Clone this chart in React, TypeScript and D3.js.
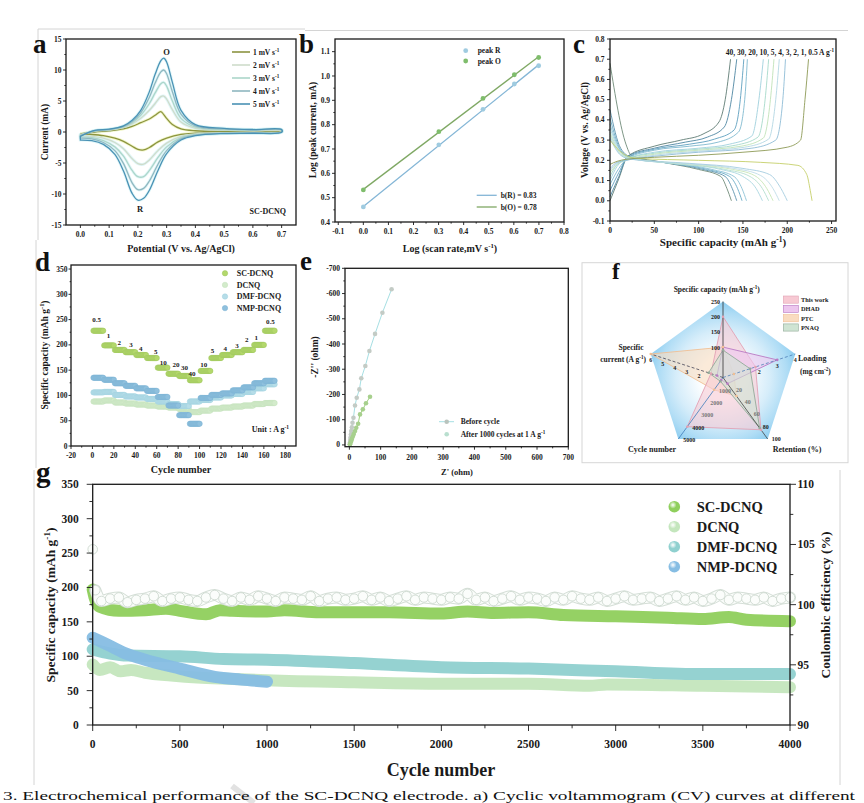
import * as d3 from 'd3'

const FONT = '"Liberation Serif", "Times New Roman", Times, serif'
const INK = '#1a1a1a'

// ---------- a) cyclic voltammograms ----------
const cvRates = ['1', '2', '3', '4', '5']
const cvColors = ['#8c9440', '#cfdccb', '#acd6ca', '#8fb7c0', '#4a92b5']
const cvAnodicE = [0, 0.05, 0.1, 0.15, 0.18, 0.21, 0.24, 0.26, 0.28, 0.29, 0.3, 0.32, 0.35, 0.4, 0.5, 0.6, 0.7]
const cvAnodicI = [
  [-0.3, 0.0, 0.2, 0.5, 0.9, 1.5, 2.1, 2.7, 3.3, 2.8, 2.2, 1.2, 0.5, 0.2, 0.1, 0.1, 0.1],
  [-0.4, 0.1, 0.3, 0.7, 1.3, 2.2, 3.5, 4.6, 5.7, 5.8, 5.3, 3.6, 1.6, 0.6, 0.3, 0.2, 0.2],
  [-0.5, 0.15, 0.35, 0.8, 1.5, 2.7, 4.6, 6.3, 7.8, 8.0, 7.4, 5.0, 2.2, 0.8, 0.4, 0.3, 0.3],
  [-0.6, 0.2, 0.4, 0.9, 1.7, 3.1, 5.6, 7.9, 9.7, 10.0, 9.4, 6.5, 2.9, 1.0, 0.5, 0.35, 0.35],
  [-0.7, 0.25, 0.45, 1.0, 1.9, 3.5, 6.5, 9.3, 11.5, 11.9, 11.3, 8.0, 3.5, 1.2, 0.6, 0.4, 0.4],
]
const cvCathodicE = [0.7, 0.6, 0.5, 0.4, 0.35, 0.3, 0.27, 0.24, 0.22, 0.2, 0.18, 0.15, 0.12, 0.08, 0.04, 0.0]
const cvCathodicI = [
  [0.1, 0.0, -0.05, -0.2, -0.4, -1.0, -1.6, -2.5, -2.9, -2.8, -2.3, -1.5, -1.0, -0.6, -0.4, -0.3],
  [0.05, -0.05, -0.1, -0.3, -0.7, -1.8, -3.0, -4.5, -5.2, -5.1, -4.3, -2.7, -1.7, -1.0, -0.7, -0.6],
  [0.0, -0.1, -0.15, -0.4, -0.9, -2.4, -4.1, -6.2, -7.2, -7.2, -6.2, -3.9, -2.4, -1.4, -0.9, -0.8],
  [0.0, -0.15, -0.2, -0.5, -1.1, -3.0, -5.2, -7.9, -9.1, -9.3, -8.2, -5.1, -3.0, -1.7, -1.1, -1.0],
  [-0.05, -0.2, -0.25, -0.6, -1.3, -3.5, -6.2, -9.4, -10.7, -11.0, -9.9, -6.3, -3.6, -2.0, -1.4, -1.3],
]
const aTicksX = [0, 0.1, 0.2, 0.3, 0.4, 0.5, 0.6, 0.7]
const aTicksY = [-15, -10, -5, 0, 5, 10, 15]

// ---------- b) log peak current vs log scan rate ----------
const bLogRate = [0, 0.301, 0.477, 0.602, 0.699]
const bPeakR = [0.462, 0.717, 0.863, 0.967, 1.042]
const bPeakO = [0.532, 0.771, 0.908, 1.005, 1.076]
const bTicksX = [-0.1, 0, 0.1, 0.2, 0.3, 0.4, 0.5, 0.6, 0.7, 0.8]
const bTicksY = [0.4, 0.5, 0.6, 0.7, 0.8, 0.9, 1.0, 1.1]

// ---------- c) GCD curves ----------
const cRates = ['40', '30', '20', '10', '5', '4', '3', '2', '1', '0.5']
const cChargeColors = ['#5f7c74', '#4f87a3', '#5d9fbe', '#7fb9cf', '#9fd0dc', '#a6d9c9', '#bfe2b8', '#b3d7e3', '#8fbcd6', '#8d9a56']
const cDischargeColors = ['#6f8a78', '#5b92ad', '#6aaac6', '#8cc2d6', '#a9d6e0', '#b4dfcf', '#c8e6b8', '#c0dde8', '#a5cde0', '#c5cf6a']
const cCharge = [
  [[0, 0.0], [10, 0.11], [20, 0.22], [50, 0.27], [80, 0.3], [105, 0.33], [123, 0.39], [130, 0.5], [136, 0.7]],
  [[0, 0.02], [10, 0.12], [20, 0.22], [50, 0.26], [85, 0.29], [110, 0.315], [129, 0.365], [137, 0.5], [143, 0.7]],
  [[0, 0.05], [10, 0.14], [20, 0.215], [50, 0.255], [90, 0.28], [118, 0.305], [140, 0.35], [147, 0.5], [151, 0.7]],
  [[0, 0.08], [10, 0.16], [20, 0.21], [50, 0.25], [90, 0.27], [122, 0.29], [145, 0.34], [152, 0.5], [155, 0.7]],
  [[0, 0.1], [8, 0.17], [18, 0.205], [50, 0.24], [100, 0.26], [135, 0.28], [160, 0.32], [168, 0.5], [173, 0.7]],
  [[0, 0.12], [8, 0.18], [18, 0.205], [50, 0.235], [100, 0.255], [142, 0.275], [167, 0.315], [175, 0.5], [179, 0.7]],
  [[0, 0.14], [8, 0.18], [18, 0.2], [50, 0.23], [100, 0.25], [148, 0.27], [173, 0.31], [181, 0.5], [185, 0.7]],
  [[0, 0.15], [8, 0.185], [18, 0.2], [50, 0.225], [100, 0.245], [152, 0.265], [179, 0.305], [187, 0.5], [191, 0.7]],
  [[0, 0.16], [8, 0.19], [18, 0.2], [50, 0.22], [100, 0.24], [160, 0.26], [187, 0.3], [195, 0.5], [198, 0.7]],
  [[0, 0.18], [8, 0.195], [18, 0.205], [50, 0.215], [100, 0.225], [150, 0.24], [200, 0.265], [215, 0.3], [220, 0.5], [224, 0.7]],
]
const cDischarge = [
  [[0, 0.68], [18, 0.28], [24, 0.225], [60, 0.19], [100, 0.155], [125, 0.12], [132, 0.06], [137, 0]],
  [[0, 0.45], [12, 0.26], [24, 0.215], [60, 0.19], [105, 0.155], [130, 0.12], [138, 0.06], [143, 0]],
  [[0, 0.41], [12, 0.25], [24, 0.21], [60, 0.19], [110, 0.155], [135, 0.12], [144, 0.06], [149, 0]],
  [[0, 0.38], [12, 0.245], [24, 0.21], [60, 0.19], [115, 0.155], [140, 0.12], [149, 0.06], [154, 0]],
  [[0, 0.36], [12, 0.24], [24, 0.21], [70, 0.185], [125, 0.155], [150, 0.12], [165, 0.06], [172, 0]],
  [[0, 0.34], [12, 0.235], [24, 0.21], [70, 0.185], [130, 0.155], [158, 0.12], [172, 0.06], [179, 0]],
  [[0, 0.33], [12, 0.23], [24, 0.208], [80, 0.185], [135, 0.158], [163, 0.125], [177, 0.06], [184, 0]],
  [[0, 0.32], [12, 0.228], [24, 0.206], [80, 0.185], [140, 0.16], [170, 0.125], [184, 0.06], [191, 0]],
  [[0, 0.31], [12, 0.225], [24, 0.205], [90, 0.185], [150, 0.16], [180, 0.13], [193, 0.06], [200, 0]],
  [[0, 0.3], [10, 0.25], [30, 0.21], [100, 0.2], [170, 0.19], [212, 0.175], [222, 0.13], [226, 0.05], [228, 0]],
]
const cTicksX = [0, 50, 100, 150, 200, 250]
const cTicksY = [-0.1, 0, 0.1, 0.2, 0.3, 0.4, 0.5, 0.6, 0.7, 0.8]

// ---------- d) rate capability (10 cycles per rate step) ----------
const dRates = ['0.5', '1', '2', '3', '4', '5', '10', '20', '30', '40', '10', '5', '4', '3', '2', '1', '0.5']
const dSC = [228, 199, 190, 185.5, 180, 174, 155, 143, 138.5, 130, 148.5, 174, 180, 185.5, 190, 200, 228]
const dDCNQ = [88, 90, 86, 84, 82, 80, 78, 76, 73, 67, 70, 74, 76, 78, 80, 83, 85]
const dDMF = [106, 107, 101, 98, 96, 93, 88, 83, 79, 88, 91, 96, 100, 103, 107, 114, 122]
const dNMP = [135, 131, 124, 119, 114, 109, 97, 80, 61, 44, 95, 101, 104, 110, 116, 124, 129]
const dLabelCycle = [4, 15, 25, 36, 45, 59, 66, 78, 86, 93, 104, 112, 124, 135, 144, 153, 166]
const dLabelCap = [250, 218, 204, 200, 193, 187, 165, 162, 155, 144, 162, 188, 192, 198, 210, 214, 246]
const dTicksX = [-20, 0, 20, 40, 60, 80, 100, 120, 140, 160, 180]
const dTicksY = [0, 50, 100, 150, 200, 250, 300, 350]

// ---------- e) Nyquist plots ----------
const eBeforeRe = [1, 2, 3, 4, 5, 6, 8, 10, 13, 18, 23.5, 32, 38, 51, 64, 82, 105.6, 135]
const eBeforeIm = [3, 10, 20, 30, 42, 55, 70, 88, 108, 156, 187, 220, 264, 313, 372, 440, 524, 617]
const eAfterRe = [2, 4, 6, 8, 11, 14, 18, 22, 28, 34, 43, 53, 66]
const eAfterIm = [3, 9, 16, 24, 33, 43, 55, 68, 84, 121, 141, 165, 191]
const eTicksX = [0, 100, 200, 300, 400, 500, 600, 700]
const eTicksY = [0, 100, 200, 300, 400, 500, 600, 700]

// ---------- f) radar comparison ----------
const fAxisMax = [250, 4, 100, 5000, 6]
const fThisWork = [200, 1.8, 85, 4000, 1]
const fDHAD = [100, 3, 10, 200, 0.5]
const fPTC = [100, 0.6, 30, 1000, 6]
const fPNAQ = [90, 1.5, 82, 300, 1.2]
const fNames = ['This work', 'DHAD', 'PTC', 'PNAQ']
const fFill = ['#f7c9d3', '#ecc6ee', '#f9dcc0', '#cfe4d3']
const fStroke = ['#e2a2b4', '#b97ac4', '#f0bf94', '#93aa9a']
const fTickCap = [100, 150, 200, 250]
const fTickLoad = [2, 3, 4]
const fTickRet = [20, 40, 60, 80, 100]
const fTickCyc = [1000, 2000, 3000, 4000, 5000]
const fTickCur = [2, 3, 4, 5, 6]

// ---------- g) long cycling at high rate ----------
const gSC = [[0, 197], [10, 186], [40, 172], [150, 166], [300, 167], [420, 169], [500, 166], [650, 161], [730, 167], [800, 166], [1000, 165], [1100, 167], [1300, 164], [1700, 164], [2000, 162], [2150, 165], [2300, 163], [2500, 164], [2700, 160], [3000, 158], [3300, 156], [3500, 154], [3650, 157], [3750, 153], [4000, 151]]
const gDCNQ = [[0, 88], [40, 80], [100, 84], [160, 78], [220, 80], [300, 76], [450, 72], [600, 69], [800, 67], [1000, 65], [1500, 62], [2000, 60], [2500, 60], [2850, 57], [2950, 59], [3500, 57], [4000, 55]]
const gDMF = [[0, 110], [100, 104], [200, 101], [500, 100], [750, 96], [1000, 95], [1500, 90], [2000, 84], [2500, 82], [3000, 78], [3500, 74], [4000, 74]]
const gNMP = [[0, 127], [100, 115], [200, 103], [300, 95], [500, 82], [700, 70], [850, 66], [1000, 63]]
const gCECycle = [0, 15, ...d3.range(50, 4001, 50)]
const gCE = [
  104.6, 101.2,
  100.3, 100.5, 100.6, 100.2, 100.4, 100.5, 100.7, 100.3, 100.5, 100.6, 100.4, 100.3, 100.6, 100.8, 100.5, 100.3, 100.6, 100.4, 100.7, 100.5,
  100.3, 100.6, 100.5, 100.4, 100.7, 100.3, 100.5, 100.6, 100.4, 100.5, 100.7, 100.4, 100.6, 100.3, 100.5, 100.7, 100.4, 100.6, 100.5, 100.4,
  100.6, 100.5, 100.9, 100.4, 100.6, 100.3, 100.5, 100.7, 100.4, 100.6, 100.5, 100.3, 100.6, 100.4, 100.7, 100.5, 100.4, 100.6, 100.3, 100.5,
  100.7, 100.4, 100.5, 100.6, 100.3, 100.5, 100.7, 100.4, 100.6, 100.3, 100.5, 100.8, 100.4, 100.6, 100.5, 100.4, 100.6, 100.3, 100.5, 100.6,
]
const gNames = ['SC-DCNQ', 'DCNQ', 'DMF-DCNQ', 'NMP-DCNQ']
const gColors = ['#8fcf5c', '#c4e6bd', '#8fd0cf', '#86bde3']
const gTicksX = [0, 500, 1000, 1500, 2000, 2500, 3000, 3500, 4000]
const gTicksY = [0, 50, 100, 150, 200, 250, 300, 350]
const gTicksY2 = [90, 95, 100, 105, 110]

const caption = '3. Electrochemical performance of the SC-DCNQ electrode. a) Cyclic voltammogram (CV) curves at different'

const minorOf = (ticks: number[]) => ticks.slice(1).map((t, i) => (t + ticks[i]) / 2)

function Axis({ scale, orient, at, major, minor = [], fmt = (v: number) => String(v), fs = 7.5, len = 3, gap = 2 }: any) {
  const els: any[] = []
  const ml = len * 0.55
  major.forEach((v: number, i: number) => {
    const p = scale(v)
    if (orient === 'bottom') {
      els.push(<line key={'m' + i} x1={p} x2={p} y1={at} y2={at + len} stroke={INK} />)
      els.push(<text key={'t' + i} x={p} y={at + len + gap + fs * 0.72} textAnchor="middle">{fmt(v)}</text>)
    } else if (orient === 'left') {
      els.push(<line key={'m' + i} x1={at} x2={at - len} y1={p} y2={p} stroke={INK} />)
      els.push(<text key={'t' + i} x={at - len - gap} y={p + fs * 0.34} textAnchor="end">{fmt(v)}</text>)
    } else {
      els.push(<line key={'m' + i} x1={at} x2={at + len} y1={p} y2={p} stroke={INK} />)
      els.push(<text key={'t' + i} x={at + len + gap} y={p + fs * 0.34} textAnchor="start">{fmt(v)}</text>)
    }
  })
  minor.forEach((v: number, i: number) => {
    const p = scale(v)
    if (orient === 'bottom') els.push(<line key={'n' + i} x1={p} x2={p} y1={at} y2={at + ml} stroke={INK} />)
    else if (orient === 'left') els.push(<line key={'n' + i} x1={at} x2={at - ml} y1={p} y2={p} stroke={INK} />)
    else els.push(<line key={'n' + i} x1={at} x2={at + ml} y1={p} y2={p} stroke={INK} />)
  })
  return (
    <g fontFamily={FONT} fontWeight="bold" fontSize={fs} fill={INK} strokeWidth={0.9}>
      {els}
    </g>
  )
}

function Frame({ x, y }: any) {
  const [x0, x1] = x.range()
  const [y0, y1] = y.range()
  return <rect x={x0} y={y1} width={x1 - x0} height={y0 - y1} fill="none" stroke={INK} strokeWidth={1.3} />
}

function sup(base: string, s: string, after: string, fs: number) {
  return [
    <tspan key="a">{base}</tspan>,
    <tspan key="b" dy={-fs * 0.38} fontSize={fs * 0.68}>{s}</tspan>,
    <tspan key="c" dy={fs * 0.38}>{after}</tspan>,
  ]
}

const Letter = ({ x, y, c, fs = 27 }: any) => (
  <text x={x} y={y} fontFamily={FONT} fontWeight="bold" fontSize={fs} fill="#111">{c}</text>
)

const Label = ({ x, y, fs = 9.5, rot = false, anchor = 'middle', children }: any) => (
  <text
    transform={`translate(${x},${y})${rot ? ' rotate(-90)' : ''}`}
    textAnchor={anchor}
    fontFamily={FONT}
    fontWeight="bold"
    fontSize={fs}
    fill={INK}
  >
    {children}
  </text>
)

function PanelA() {
  const x = d3.scaleLinear([-0.05, 0.75], [66, 296])
  const y = d3.scaleLinear([-15, 15], [225, 39])
  const line = d3.line<number[]>().x((d) => x(d[0])).y((d) => y(d[1])).curve(d3.curveCatmullRom.alpha(0.5))
  const paths = cvRates.map((_, k) => {
    const pts = cvAnodicE.map((e, i) => [e, cvAnodicI[k][i]]).concat(cvCathodicE.map((e, i) => [e, cvCathodicI[k][i]]))
    return line(pts) + 'Z'
  })
  return (
    <g>
      {paths.map((p, k) => (
        <path key={'h' + k} d={p} fill="none" stroke={k === 0 ? '#e6ee9a' : '#c9eef2'} strokeWidth={3} opacity={0.55} />
      ))}
      {paths.map((p, k) => (
        <path key={k} d={p} fill="none" stroke={cvColors[k]} strokeWidth={1.3} />
      ))}
      <Frame x={x} y={y} />
      <Axis scale={x} orient="bottom" at={225} major={aTicksX} minor={minorOf(aTicksX)} fmt={(v: number) => v.toFixed(1)} gap={4} />
      <Axis scale={y} orient="left" at={66} major={aTicksY} minor={minorOf(aTicksY)} gap={1.5} />
      {cvRates.map((r, k) => {
        const yy = 52 + k * 13
        return (
          <g key={r}>
            <line x1={232} x2={250} y1={yy} y2={yy} stroke={cvColors[k]} strokeWidth={1.6} />
            <text x={253} y={yy + 2.6} fontFamily={FONT} fontWeight="bold" fontSize={7.5} fill={INK}>
              {sup(`${r} mV s`, '-1', '', 7.5)}
            </text>
          </g>
        )
      })}
      <Label x={166.5} y={55} fs={8.5}>O</Label>
      <Label x={140} y={212} fs={8.5}>R</Label>
      <Label x={286} y={214} fs={8} anchor="end">SC-DCNQ</Label>
      <Label x={48} y={132} rot>Current (mA)</Label>
      <Label x={181} y={252} fs={10}>Potential (V vs. Ag/AgCl)</Label>
      <Letter x={33} y={53} c="a" />
    </g>
  )
}

function PanelB() {
  const x = d3.scaleLinear([-0.113, 0.8], [335, 564])
  const y = d3.scaleLinear([0.4, 1.152], [222, 39])
  const fit = (ys: number[]) => {
    const mx = d3.mean(bLogRate)!
    const my = d3.mean(ys)!
    const s = d3.sum(bLogRate, (v, i) => (v - mx) * (ys[i] - my)) / d3.sum(bLogRate, (v) => (v - mx) ** 2)
    return [[0, my - s * mx], [0.7, my + s * (0.7 - mx)]]
  }
  const line = d3.line<number[]>().x((d) => x(d[0])).y((d) => y(d[1]))
  const series = [
    { vals: bPeakR, dot: '#9fcbe0', stroke: '#84b6d6', name: 'peak R', fitName: 'b(R) = 0.83' },
    { vals: bPeakO, dot: '#7fbd6c', stroke: '#7fa864', name: 'peak O', fitName: 'b(O) = 0.78' },
  ]
  return (
    <g>
      {series.map((s) => (
        <g key={s.name}>
          <path d={line(fit(s.vals))!} fill="none" stroke={s.stroke} strokeWidth={1.3} />
          {s.vals.map((v, i) => (
            <circle key={i} cx={x(bLogRate[i])} cy={y(v)} r={2.4} fill={s.dot} />
          ))}
        </g>
      ))}
      <Frame x={x} y={y} />
      <Axis scale={x} orient="bottom" at={222} major={bTicksX} minor={minorOf(bTicksX)} fmt={(v: number) => v.toFixed(1)} gap={4} />
      <Axis scale={y} orient="left" at={335} major={bTicksY} minor={minorOf(bTicksY)} fmt={(v: number) => v.toFixed(1)} gap={2} />
      {series.map((s, k) => (
        <g key={'l' + k}>
          <circle cx={465.7} cy={50.7 + k * 10.3} r={2.4} fill={s.dot} />
          <text x={477.7} y={53.4 + k * 10.3} fontFamily={FONT} fontWeight="bold" fontSize={7.5} fill={INK}>{s.name}</text>
          <line x1={476.7} x2={496.7} y1={195.3 + k * 11.7} y2={195.3 + k * 11.7} stroke={s.stroke} strokeWidth={1.3} />
          <text x={500.7} y={198 + k * 11.7} fontFamily={FONT} fontWeight="bold" fontSize={7.5} fill={INK}>{s.fitName}</text>
        </g>
      ))}
      <Label x={316} y={130} rot>Log (peak current, mA)</Label>
      <Label x={450} y={252} fs={10}>{sup('Log (scan rate,mV s', '-1', ')', 10)}</Label>
      <Letter x={299} y={53} c="b" />
    </g>
  )
}

function PanelC() {
  const x = d3.scaleLinear([0, 255], [610, 836])
  const y = d3.scaleLinear([-0.1, 0.8], [221, 39])
  const line = d3.line<number[]>().x((d) => x(d[0])).y((d) => y(d[1])).curve(d3.curveMonotoneX)
  return (
    <g>
      {cRates.map((r, k) => (
        <g key={r}>
          <path d={line(cDischarge[k])!} fill="none" stroke={cDischargeColors[k]} strokeWidth={0.9} />
          <path d={line(cCharge[k])!} fill="none" stroke={cChargeColors[k]} strokeWidth={0.9} />
        </g>
      ))}
      <Frame x={x} y={y} />
      <Axis scale={x} orient="bottom" at={221} major={cTicksX} minor={minorOf(cTicksX)} gap={4} />
      <Axis scale={y} orient="left" at={610} major={cTicksY} minor={minorOf(cTicksY)} fmt={(v: number) => v.toFixed(1)} gap={2.5} />
      <text x={834} y={54.5} textAnchor="end" fontFamily={FONT} fontWeight="bold" fontSize={7.5} fill={INK}>
        {sup(cRates.join(', ') + ' A g', '-1', '', 7.5)}
      </text>
      <Label x={588} y={130} rot>Voltage (V vs. Ag/AgCl)</Label>
      <Label x={723} y={246} fs={11}>{sup('Specific capacity (mAh g', '-1', ')', 11)}</Label>
      <Letter x={573} y={53} c="c" />
    </g>
  )
}

function PanelD() {
  const x = d3.scaleLinear([-20, 190], [71, 296])
  const y = d3.scaleLinear([0, 358], [446, 265])
  const series = [
    { name: 'SC-DCNQ', vals: dSC, fill: '#b3d86b', stroke: '#9cc45c' },
    { name: 'DCNQ', vals: dDCNQ, fill: '#d3ebcb', stroke: '#c3e0ba' },
    { name: 'DMF-DCNQ', vals: dDMF, fill: '#b6dde8', stroke: '#9fd0de' },
    { name: 'NMP-DCNQ', vals: dNMP, fill: '#8fc0dd', stroke: '#78b0d2' },
  ]
  const order = [1, 2, 3, 0]
  return (
    <g>
      {order.map((k) => {
        const s = series[k]
        return (
          <g key={s.name}>
            {s.vals.flatMap((v, seg) =>
              d3.range(1, 11).map((c) => (
                <circle key={seg + '-' + c} cx={x(seg * 10 + c)} cy={y(v)} r={2.7} fill={s.fill} stroke={s.stroke} strokeWidth={0.5} />
              )),
            )}
          </g>
        )
      })}
      {dRates.map((r, i) => (
        <text key={i} x={x(dLabelCycle[i])} y={y(dLabelCap[i]) + 2.5} textAnchor="middle" fontFamily={FONT} fontWeight="bold" fontSize={7} fill={INK}>
          {r}
        </text>
      ))}
      <Frame x={x} y={y} />
      <Axis scale={x} orient="bottom" at={446} major={dTicksX} minor={minorOf(dTicksX)} gap={4} />
      <Axis scale={y} orient="left" at={71} major={dTicksY} minor={minorOf(dTicksY)} len={2.5} gap={1} />
      {series.map((s, k) => (
        <g key={'l' + k}>
          <circle cx={225} cy={273.3 + k * 11.6} r={2.7} fill={s.fill} stroke={s.stroke} strokeWidth={0.5} />
          <text x={236.7} y={276.1 + k * 11.6} fontFamily={FONT} fontWeight="bold" fontSize={8} fill={INK}>{s.name}</text>
        </g>
      ))}
      <Label x={289} y={432} fs={8} anchor="end">{sup('Unit : A g', '-1', '', 8)}</Label>
      <Label x={48} y={355} rot>{sup('Specific capacity (mAh g', '-1', ')', 9.5)}</Label>
      <Label x={181} y={473} fs={10}>Cycle number</Label>
      <Letter x={35} y={271} c="d" />
    </g>
  )
}

function PanelE() {
  const x = d3.scaleLinear([-14, 700], [345, 568.3])
  const y = d3.scaleLinear([-7, 700], [446.7, 268.3])
  const before = eBeforeRe.map((v, i) => [x(v), y(eBeforeIm[i])] as [number, number])
  const after = eAfterRe.map((v, i) => [x(v), y(eAfterIm[i])] as [number, number])
  return (
    <g>
      <path d={d3.line()([[x(0), y(0)], ...before])!} fill="none" stroke="#a6dfe3" strokeWidth={1} />
      <path d={d3.line()([[x(0), y(0)], ...after])!} fill="none" stroke="#9fd27f" strokeWidth={1} />
      {before.map((p, i) => (
        <circle key={'b' + i} cx={p[0]} cy={p[1]} r={2.3} fill="#c3cbc5" />
      ))}
      {after.map((p, i) => (
        <circle key={'a' + i} cx={p[0]} cy={p[1]} r={2.3} fill="#a7d08d" />
      ))}
      <Frame x={x} y={y} />
      <Axis scale={x} orient="bottom" at={446.7} major={eTicksX} minor={minorOf(eTicksX)} gap={4.5} />
      <Axis scale={y} orient="left" at={345} major={eTicksY} minor={minorOf(eTicksY)} fmt={(v: number) => (v === 0 ? '0' : '-' + v)} gap={2} />
      <line x1={439} x2={454} y1={421.7} y2={421.7} stroke="#a6dfe3" strokeWidth={1} />
      <circle cx={446.7} cy={421.7} r={2.3} fill="#b9c3bd" />
      <circle cx={446.7} cy={434.3} r={2.3} fill="#b9dfcf" />
      <text x={460.7} y={424.4} fontFamily={FONT} fontWeight="bold" fontSize={7.5} fill={INK}>Before cycle</text>
      <text x={460.7} y={437} fontFamily={FONT} fontWeight="bold" fontSize={7.5} fill={INK}>
        {sup('After 1000 cycles at 1 A g', '-1', '', 7.5)}
      </text>
      <Label x={318} y={357} rot>-Z'' (ohm)</Label>
      <Label x={457} y={475} fs={8.5}>Z' (ohm)</Label>
      <Letter x={300} y={270} c="e" />
    </g>
  )
}

function PanelF() {
  const cx = 723
  const cy = 377.5
  const R = 76
  const ang = [-90, -18, 54, 126, 198].map((a) => (a * Math.PI) / 180)
  const rs = fAxisMax.map((m) => d3.scaleLinear([0, m], [0, R]))
  const pt = (i: number, v: number) => [cx + rs[i](v) * Math.cos(ang[i]), cy + rs[i](v) * Math.sin(ang[i])] as [number, number]
  const poly = (vals: number[]) => d3.line().curve(d3.curveLinearClosed)(vals.map((v, i) => pt(i, v)))!
  const data = [fThisWork, fDHAD, fPTC, fPNAQ]
  const drawOrder = [2, 0, 1, 3]
  const tickSets = [fTickCap, fTickLoad, fTickRet, fTickCyc, fTickCur]
  const off = [[-3, 2.5, 'end'], [0, 8, 'middle'], [4, 2, 'start'], [5, 3, 'start'], [0, 8, 'middle']]
  const axisStyle = [
    { stroke: '#333', dash: '' },
    { stroke: '#4f7fb8', dash: '3 2' },
    { stroke: '#444', dash: '' },
    { stroke: '#3f7cba', dash: '' },
    { stroke: '#445', dash: '3 2' },
  ]
  const faint = (i: number, v: number) => (i === 2 && v < 80) || (i === 3 && v < 4000)
  return (
    <g>
      <defs>
        <radialGradient id="fgrad" gradientUnits="userSpaceOnUse" cx={cx} cy={cy} r={R}>
          <stop offset="0" stopColor="#ffffff" />
          <stop offset="0.28" stopColor="#ffffff" />
          <stop offset="0.62" stopColor="#d6edfa" />
          <stop offset="0.85" stopColor="#aedcf5" />
          <stop offset="1" stopColor="#8ccdf0" />
        </radialGradient>
      </defs>
      <rect x={582} y={262.7} width={266} height={200} fill="none" stroke="#d6d6d6" strokeWidth={1} />
      <path d={poly(fAxisMax)} fill="url(#fgrad)" stroke="none" />
      {drawOrder.map((k) => (
        <path key={k} d={poly(data[k])} fill={fFill[k]} fillOpacity={0.6} stroke={fStroke[k]} strokeWidth={0.9} />
      ))}
      {fAxisMax.map((m, i) => {
        const e = pt(i, m)
        return (
          <line key={'ax' + i} x1={cx} y1={cy} x2={e[0]} y2={e[1]} stroke={axisStyle[i].stroke} strokeWidth={0.8} strokeDasharray={axisStyle[i].dash} />
        )
      })}
      {data.map((vals, k) =>
        vals.map((v, i) => {
          const p = pt(i, v)
          return <circle key={k + '-' + i} cx={p[0]} cy={p[1]} r={1.3} fill={fStroke[k]} />
        }),
      )}
      {tickSets.map((ts, i) =>
        ts.map((v) => {
          const p = pt(i, v)
          return (
            <text
              key={i + '-' + v}
              x={p[0] + (off[i][0] as number)}
              y={p[1] + (off[i][1] as number)}
              textAnchor={off[i][2] as string}
              fontFamily={FONT}
              fontWeight="bold"
              fontSize={6}
              fill={faint(i, v) ? '#777' : INK}
            >
              {v}
            </text>
          )
        }),
      )}
      <Label x={716.7} y={292} fs={7.5}>{sup('Specific capacity (mAh g', '-1', ')', 7.5)}</Label>
      <Label x={798} y={361} fs={8} anchor="start">Loading</Label>
      <Label x={800} y={373.5} fs={7.5} anchor="start">{sup('(mg cm', '-2', ')', 7.5)}</Label>
      <Label x={631} y={350} fs={7.5}>Specific</Label>
      <Label x={646} y={362} fs={7.5} anchor="end">{sup('current (A g', '-1', ')', 7.5)}</Label>
      <Label x={652} y={452} fs={8}>Cycle number</Label>
      <Label x={797} y={452} fs={8}>Retention (%)</Label>
      {fNames.map((n, k) => (
        <g key={n}>
          <rect x={783.3} y={296 + k * 9.3} width={15} height={7.2} fill={fFill[k]} stroke={fStroke[k]} strokeWidth={0.6} />
          <text x={801} y={302 + k * 9.3} fontFamily={FONT} fontWeight="bold" fontSize={6.3} fill={INK}>{n}</text>
        </g>
      ))}
      <Letter x={612} y={279} c="f" fs={23} />
    </g>
  )
}

function PanelG() {
  const x = d3.scaleLinear([0, 4000], [92.7, 790])
  const y = d3.scaleLinear([0, 350], [725, 484.3])
  const y2 = d3.scaleLinear([90, 110], [725, 484.3])
  const band = d3.line<number[]>().x((d) => x(d[0])).y((d) => y(d[1])).curve(d3.curveMonotoneX)
  const ce = gCECycle.map((c, i) => [x(c), y2(gCE[i])] as [number, number])
  const ceTube = d3.line().curve(d3.curveMonotoneX)(ce.slice(1))!
  const bands = [gDCNQ, gDMF, gNMP, gSC]
  const bandColor = [gColors[1], gColors[2], gColors[3], gColors[0]]
  return (
    <g>
      <defs>
        {gColors.map((c, k) => (
          <radialGradient key={k} id={'gm' + k} cx="38%" cy="35%" r="70%">
            <stop offset="0" stopColor="#ffffff" stopOpacity={0.9} />
            <stop offset="0.45" stopColor={c} />
            <stop offset="1" stopColor={c} />
          </radialGradient>
        ))}
      </defs>
      {bands.map((b, k) => (
        <path key={k} d={band(b)!} fill="none" stroke={bandColor[k]} strokeWidth={12} strokeLinecap="round" strokeLinejoin="round" opacity={0.95} />
      ))}
      <circle cx={x(gSC[0][0])} cy={y(gSC[0][1])} r={5.5} fill={gColors[0]} />
      <path d={ceTube} fill="none" stroke="#d5dfd7" strokeWidth={12} strokeLinecap="round" />
      <path d={ceTube} fill="none" stroke="#fbfdfb" strokeWidth={10} strokeLinecap="round" />
      {ce.map((p, i) => (
        <circle key={i} cx={p[0]} cy={p[1]} r={4.8} fill="#fbfdfb" stroke="#c8d4ca" strokeWidth={0.8} />
      ))}
      <Frame x={x} y={y} />
      <Axis scale={x} orient="bottom" at={725} major={gTicksX} minor={minorOf(gTicksX)} fs={11.5} len={6} gap={9} />
      <Axis scale={y} orient="left" at={92.7} major={gTicksY} minor={minorOf(gTicksY)} fs={11.5} len={6} gap={8} />
      <Axis scale={y2} orient="right" at={790} major={gTicksY2} minor={minorOf(gTicksY2)} fs={11.5} len={6} gap={1.5} />
      {gNames.map((n, k) => (
        <g key={n}>
          <circle cx={674.3} cy={506.7 + k * 20} r={5.8} fill={`url(#gm${k})`} />
          <text x={696.7} y={512 + k * 20} fontFamily={FONT} fontWeight="bold" fontSize={14.5} fill={INK}>{n}</text>
        </g>
      ))}
      <Label x={55} y={605} fs={13.5} rot>{sup('Specific capacity (mAh g', '-1', ')', 13.5)}</Label>
      <Label x={830} y={605} fs={13.5} rot>Coulombic efficiency (%)</Label>
      <Label x={441} y={776} fs={18}>Cycle number</Label>
      <Letter x={36} y={482} c="g" fs={29} />
    </g>
  )
}

export default function App() {
  return (
    <svg width={864} height={803} viewBox="0 0 864 803" style={{ position: 'absolute', left: 0, top: 0, background: '#fff' }}>
      <rect width={864} height={803} fill="#fff" />
      <g stroke="#d4d4d4" strokeWidth={1} fill="none">
        <line x1={38} x2={305} y1={29} y2={29} />
        <line x1={38} x2={38} y1={29} y2={240} />
        <line x1={305} x2={848} y1={30.5} y2={30.5} />
        <line x1={36} x2={36} y1={240} y2={468} />
        <line x1={34} x2={34} y1={470} y2={785} />
        <line x1={840} x2={840} y1={470} y2={785} />
      </g>
      <PanelA />
      <PanelB />
      <PanelC />
      <PanelD />
      <PanelE />
      <PanelF />
      <PanelG />
      <line x1={232} y1={786} x2={254} y2={803} stroke="#e2e2e2" strokeWidth={6} />
      <text x={3} y={799.5} fontFamily={FONT} fontSize={11.5} fill="#111" textLength={852} lengthAdjust="spacingAndGlyphs">
        {caption}
      </text>
    </svg>
  )
}
